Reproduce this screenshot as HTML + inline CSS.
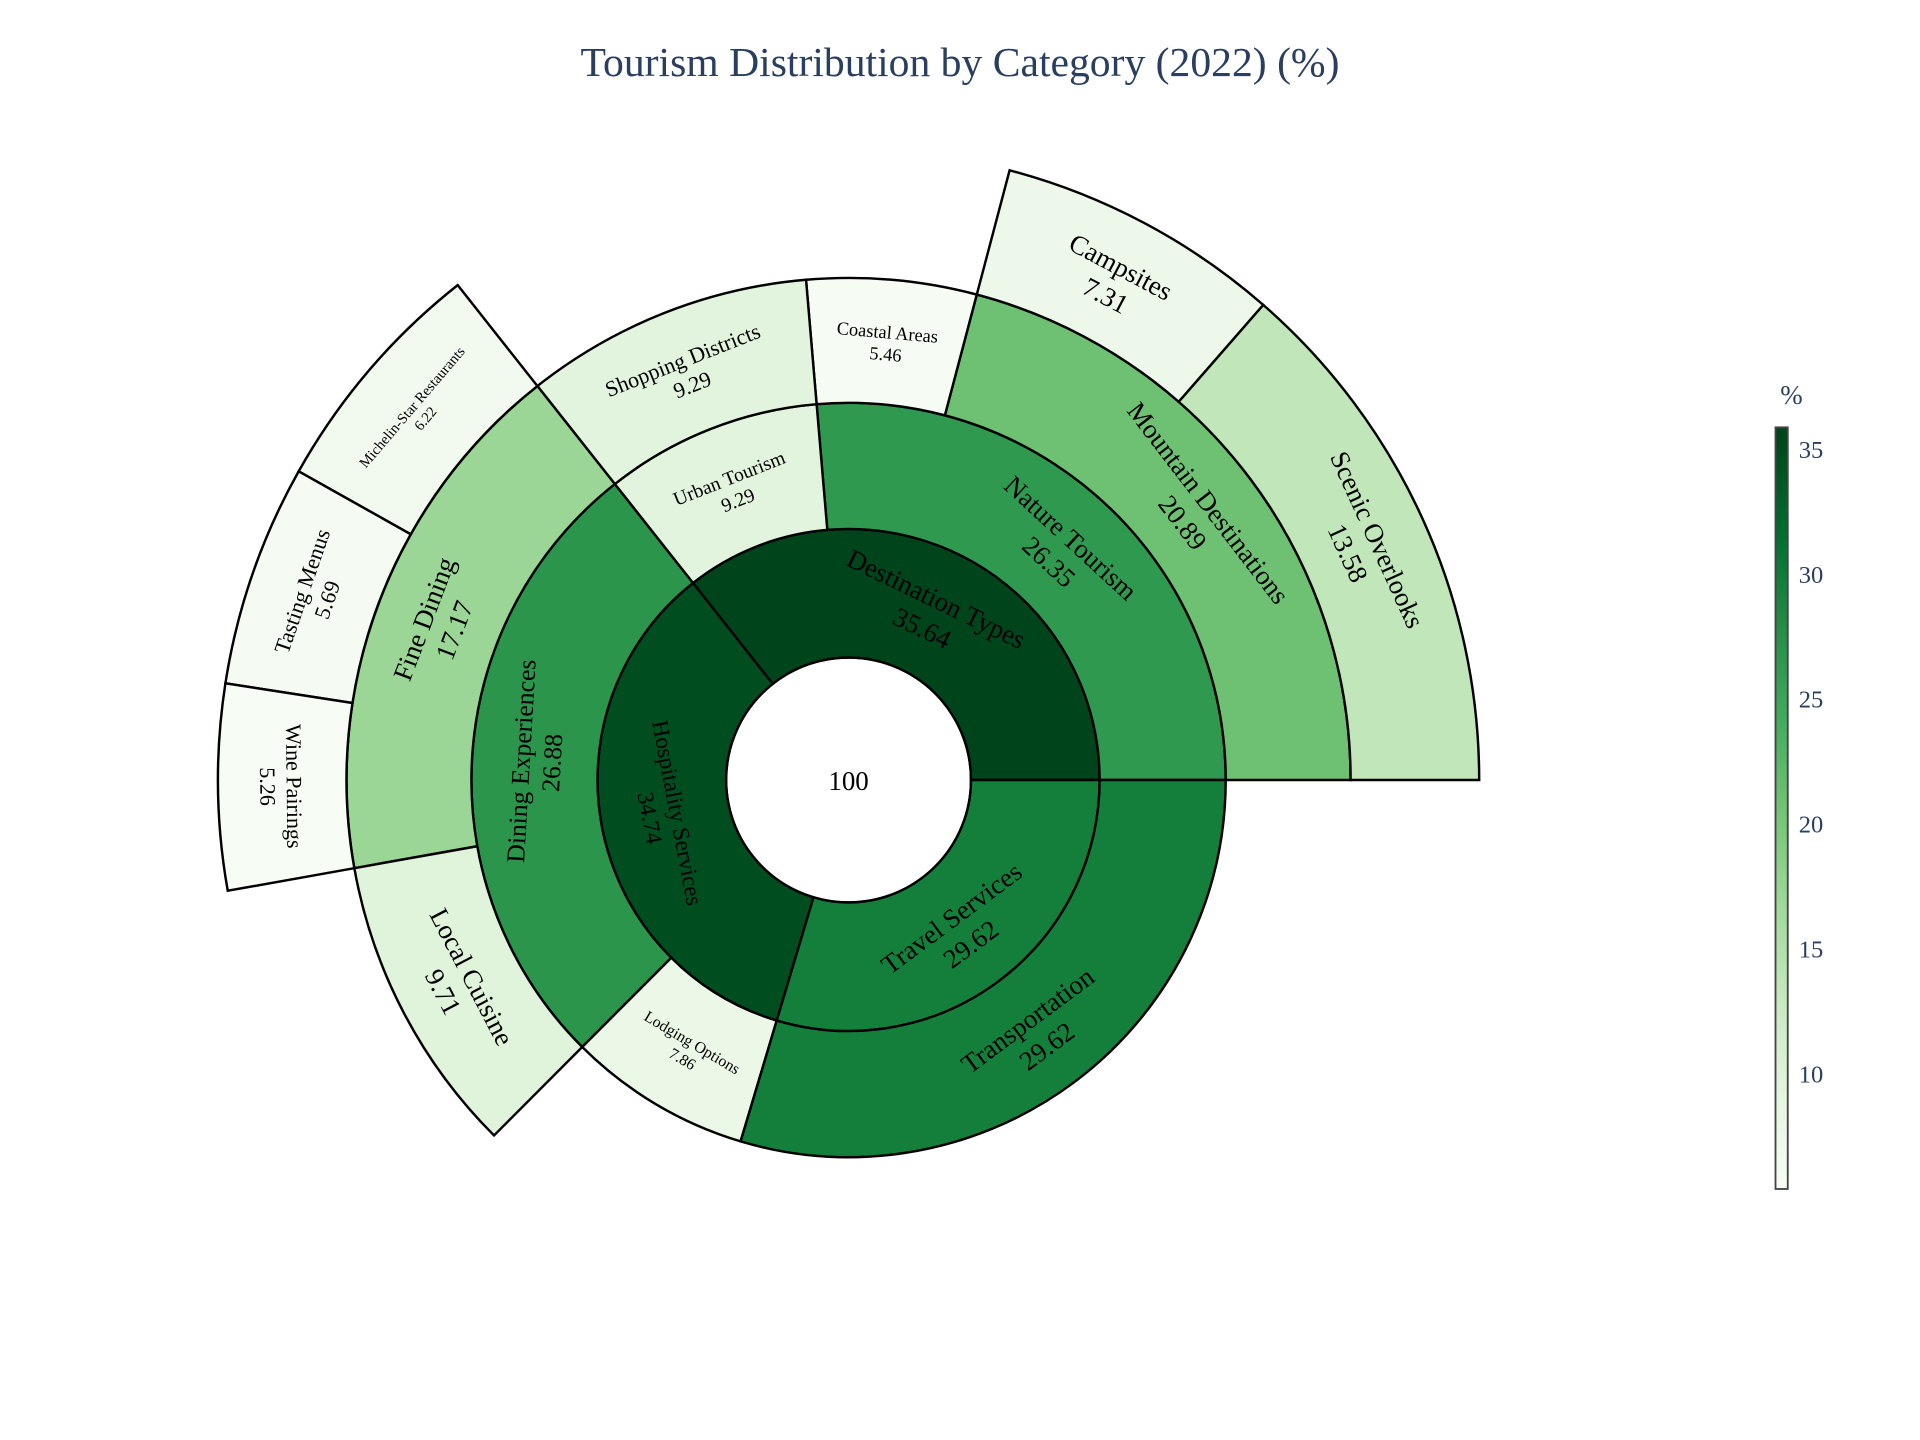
<!DOCTYPE html>
<html><head><meta charset="utf-8"><style>
html,body{margin:0;padding:0;background:#fff}
svg{display:block;font-family:"Liberation Serif",serif}
</style></head><body>
<svg id="chart" width="1920" height="1440" viewBox="0 0 1568 1176" xmlns="http://www.w3.org/2000/svg">
<rect width="1568" height="1176" fill="#fff"/>
<text x="784" y="62" text-anchor="middle" font-size="34" fill="#2a3f5f">Tourism Distribution by Category (2022) (%)</text>
<g id="segs"></g>
<g id="cbar"></g>
</svg>
<script>
const labels=["Destination Types","Nature Tourism","Mountain Destinations","Scenic Overlooks","Campsites","Coastal Areas","Urban Tourism","Shopping Districts","Hospitality Services","Dining Experiences","Fine Dining","Michelin-Star Restaurants","Tasting Menus","Wine Pairings","Local Cuisine","Lodging Options","Travel Services","Transportation"];
const parents=["","Destination Types","Nature Tourism","Mountain Destinations","Mountain Destinations","Nature Tourism","Destination Types","Urban Tourism","","Hospitality Services","Dining Experiences","Fine Dining","Fine Dining","Fine Dining","Dining Experiences","Hospitality Services","","Travel Services"];
const values=[35.64,26.35,20.89,13.58,7.31,5.46,9.29,9.29,34.74,26.88,17.17,6.22,5.69,5.26,9.71,7.86,29.62,29.62];
const cbTicks=[10,15,20,25,30,35];
const fontSizes=[22,22,22,22,22,15,16,18,19,21,22,12,18,18,22,13,22,22];

const NS="http://www.w3.org/2000/svg";
const cx=693,cy=637,radii=[100,205,308,410,515];
const cmin=Math.min(...values),cmax=Math.max(...values);
const greens=["#f7fcf5","#e5f5e0","#c7e9c0","#a1d99b","#74c476","#41ab5d","#238b45","#006d2c","#00441b"];
function hex(h){return [1,3,5].map(i=>parseInt(h.substr(i,2),16));}
function color(v){let t=(v-cmin)/(cmax-cmin);t=Math.max(0,Math.min(1,t))*8;const i=Math.min(7,Math.floor(t)),f=t-i;const a=hex(greens[i]),b=hex(greens[i+1]);return `rgb(${a.map((x,k)=>Math.round(x+(b[k]-x)*f)).join(",")})`;}
function pt(r,a){const rad=a*Math.PI/180;return [cx+r*Math.cos(rad),cy-r*Math.sin(rad)];}
function slug(s){return s.toLowerCase().replace(/[^a-z0-9]+/g,'-').replace(/-$/,'');}
const segs=document.getElementById('segs');
function layout(parent,a0,span,depth){
  const kids=labels.map((l,i)=>i).filter(i=>parents[i]===parent);
  const tot=kids.reduce((s,i)=>s+values[i],0);
  let a=a0;
  kids.forEach(i=>{
    const sp=span*values[i]/tot;
    const r0=radii[depth],r1=radii[depth+1],a1=a+sp;
    const p1=pt(r0,a),p2=pt(r1,a),p3=pt(r1,a1),p4=pt(r0,a1);
    const lg=sp>180?1:0;
    const path=document.createElementNS(NS,'path');
    path.setAttribute('d',`M${p1}L${p2}A${r1},${r1} 0 ${lg} 0 ${p3}L${p4}A${r0},${r0} 0 ${lg} 1 ${p1}Z`);
    path.setAttribute('fill',color(values[i]));
    path.setAttribute('stroke','#000');path.setAttribute('stroke-width','2');
    
    
    segs.appendChild(path);
    const mid=a+sp/2,rm=(r0+r1)/2,[tx,ty]=pt(rm,mid);
    let rot=90-mid;while(rot>90)rot-=180;while(rot<=-90)rot+=180;
    const fs=fontSizes[i];
    const t=document.createElementNS(NS,'text');
    t.setAttribute('transform',`translate(${tx},${ty}) rotate(${rot})`);
    t.setAttribute('text-anchor','middle');t.setAttribute('font-size',fs);
    
    
    const s1=document.createElementNS(NS,'tspan');s1.setAttribute('x',0);s1.setAttribute('y',-fs*0.2);s1.textContent=labels[i];
    const s2=document.createElementNS(NS,'tspan');s2.setAttribute('x',0);s2.setAttribute('y',fs*1.0);s2.textContent=values[i].toFixed(2);
    t.appendChild(s1);t.appendChild(s2);segs.appendChild(t);
    layout(labels[i],a,sp,depth+1);
    a=a1;
  });
}
const total=values.filter((v,i)=>parents[i]==="").reduce((s,v)=>s+v,0);
const c=document.createElementNS(NS,'circle');
c.setAttribute('cx',cx);c.setAttribute('cy',cy);c.setAttribute('r',radii[0]);c.setAttribute('fill','#fff');c.setAttribute('stroke','#000');c.setAttribute('stroke-width','2');


segs.appendChild(c);
const ct=document.createElementNS(NS,'text');
ct.setAttribute('x',cx);ct.setAttribute('y',cy+8);ct.setAttribute('text-anchor','middle');ct.setAttribute('font-size','22');ct.textContent=Math.round(total);


segs.appendChild(ct);
layout("",0,360,0);

// colorbar
const cb=document.getElementById('cbar');
const cbTop=349,cbBot=971,vTop=35.88,vBot=5.39;
function cy2(v){return cbTop+(vTop-v)/(vTop-vBot)*(cbBot-cbTop);}
let defs=`<defs><linearGradient id="cg" x1="0" y1="1" x2="0" y2="0">`;
greens.forEach((g,k)=>{const v=cmin+(cmax-cmin)*k/8;const off=(cbBot-cy2(v))/(cbBot-cbTop);defs+=`<stop offset="${off}" stop-color="${g}"/>`;});
defs+=`</linearGradient></defs>`;
cb.innerHTML=defs+`<rect x="1450" y="${cbTop}" width="10" height="${cbBot-cbTop}" fill="url(#cg)" stroke="#444" stroke-width="1.5"/><text x="1463" y="330" text-anchor="middle" font-size="22" fill="#2a3f5f">%</text>`;
cbTicks.forEach(v=>{
  const t=document.createElementNS(NS,'text');
  t.setAttribute('x',1469);t.setAttribute('y',cy2(v)+7);t.setAttribute('font-size','20');t.setAttribute('fill','#2a3f5f');
  t.textContent=v;
  
  
  cb.appendChild(t);
});
</script>
</body></html>
